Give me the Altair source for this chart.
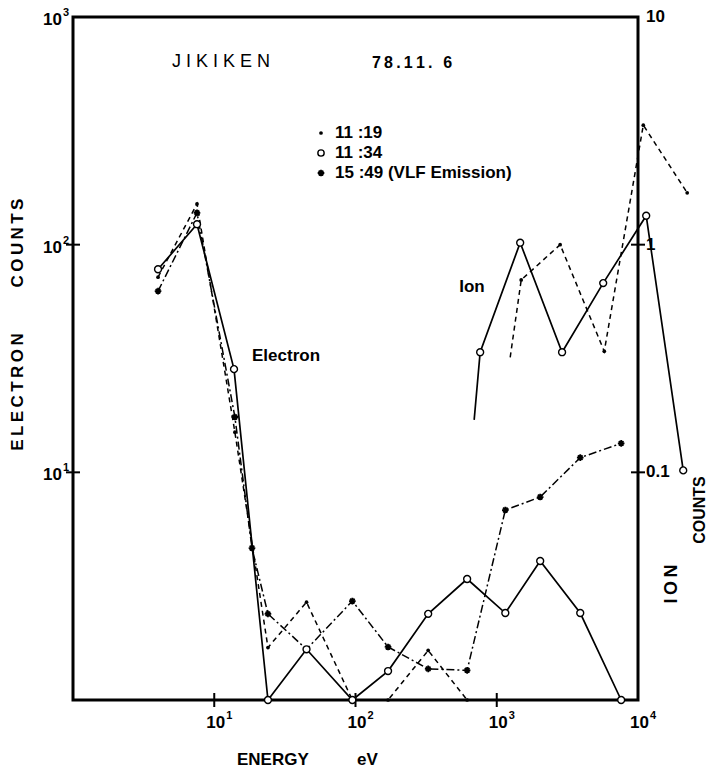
import altair as alt
import pandas as pd

# ---- electron spectra (left axis, counts) ----
e1119_energy = [4.0, 7.55, 14.0, 24.0, 45.0, 95.0, 170.0, 327.0, 617.0]
e1119_counts = [72, 151, 15.0, 1.7, 2.69, 1.0, 1.0, 1.65, 1.0]

e1134_energy = [4.0, 7.55, 13.8, 24.0, 45.0, 95.0, 170.0, 327.0, 617.0, 1150.0, 2030.0, 3900.0, 7600.0]
e1134_counts = [78, 123, 28.4, 1.0, 1.67, 1.0, 1.34, 2.39, 3.40, 2.41, 4.08, 2.41, 1.0]

e1549_energy = [4.0, 7.55, 14.0, 18.5, 24.0, 45.0, 95.0, 170.0, 327.0, 617.0, 1150.0, 2030.0, 3900.0, 7600.0]
e1549_counts = [62.5, 138, 17.5, 4.65, 2.39, 1.67, 2.72, 1.71, 1.37, 1.35, 6.83, 7.79, 11.6, 13.4]

# ---- ion spectra (right axis, counts); first entry of each has no symbol ----
i1134_energy = [692, 763, 1465, 2900, 5670, 11430, 20900]
i1134_counts = [0.17, 0.337, 1.02, 0.337, 0.678, 1.34, 0.102]

i1119_energy = [1245, 1490, 2810, 5770, 10900, 22300]
i1119_counts = [0.32, 0.70, 1.0, 0.34, 3.35, 1.69]

# ---- axis ticks ----
x_tick_values = [10, 100, 1000, 10000]
x_cross_ticks = [10, 100, 1000]
e_tick_values = [10, 100, 1000]
e_cross_ticks = [10, 100]
i_tick_values = [0.1, 1, 10]
i_cross_ticks = [0.1, 1]

W, H = 565, 683
FONT = "Liberation Sans"
TS = "\u2009"  # thin space used for loose tracking
ASTERISK = "M-1,0L1,0M0,-1L0,1M-0.7,-0.7L0.7,0.7M-0.7,0.7L0.7,-0.7"

x_scale = alt.Scale(type="log", domain=[1, 10000], nice=False)
ye_scale = alt.Scale(type="log", domain=[1, 1000], nice=False)
yi_scale = alt.Scale(type="log", domain=[0.01, 10], nice=False)

exp_expr = "'' + round(log(datum.v) / LN10)"
ion_expr = "datum.v < 0.5 ? '0.1' : datum.v < 5 ? '1' : '10'"


def tracked(s):
    return TS.join(s)


def line_layer(energy, counts, yscale, dash=None, width=1.5):
    df = pd.DataFrame({"energy": energy, "count": counts})
    kw = dict(color="black", strokeWidth=width, clip=False)
    if dash:
        kw["strokeDash"] = dash
    return alt.Chart(df).mark_line(**kw).encode(
        x=alt.X("energy:Q", scale=x_scale, axis=None),
        y=alt.Y("count:Q", scale=yscale, axis=None),
    )


def symbol_mark(chart, style, legend=False):
    if style == "dot":
        return chart.mark_point(shape="circle", filled=True, color="black",
                                size=14, opacity=1, clip=False)
    if style == "ring":
        return chart.mark_point(shape="circle", filled=True, fill="white",
                                stroke="black", strokeWidth=1.4,
                                size=40 if legend else 48, opacity=1, clip=False)
    return chart.mark_point(shape=ASTERISK, filled=False, stroke="black",
                            strokeWidth=1.8, size=44, opacity=1, clip=False)


def symbol_layer(energy, counts, yscale, style):
    df = pd.DataFrame({"energy": energy, "count": counts})
    return symbol_mark(alt.Chart(df), style).encode(
        x=alt.X("energy:Q", scale=x_scale, axis=None),
        y=alt.Y("count:Q", scale=yscale, axis=None),
    )


def label(text, x, y, size=17, weight="bold", angle=0, align="left"):
    return alt.Chart(alt.Data(values=[{}])).mark_text(
        text=text, font=FONT, fontSize=size, fontWeight=weight, angle=angle,
        align=align, baseline="middle", color="black",
    ).encode(x=alt.value(x), y=alt.value(y))


def legend_symbol(style, x, y):
    return symbol_mark(alt.Chart(alt.Data(values=[{}])), style, legend=True).encode(
        x=alt.value(x), y=alt.value(y))


def text_style(align, size=17):
    return dict(font=FONT, fontSize=size, fontWeight="bold", color="black",
                align=align, baseline="middle")


# tick marks crossing the frame
x_ticks = alt.Chart(pd.DataFrame({"v": x_cross_ticks})).mark_rule(
    color="black", strokeWidth=2).encode(
    x=alt.X("v:Q", scale=x_scale, axis=None), y=alt.value(H - 7), y2=alt.value(H + 7))
e_ticks = alt.Chart(pd.DataFrame({"v": e_cross_ticks})).mark_rule(
    color="black", strokeWidth=2).encode(
    y=alt.Y("v:Q", scale=ye_scale, axis=None), x=alt.value(-7), x2=alt.value(7))
i_ticks = alt.Chart(pd.DataFrame({"v": i_cross_ticks})).mark_rule(
    color="black", strokeWidth=2).encode(
    y=alt.Y("v:Q", scale=yi_scale, axis=None), x=alt.value(W - 7), x2=alt.value(W + 7))

# tick labels: base "10" plus a raised exponent
x_base = alt.Chart(pd.DataFrame({"v": x_tick_values})).mark_text(
    text="10", dx=11, **text_style("right")).encode(
    x=alt.X("v:Q", scale=x_scale, axis=None), y=alt.value(H + 23))
x_exp = alt.Chart(pd.DataFrame({"v": x_tick_values})).transform_calculate(
    t=exp_expr).mark_text(dx=12, **text_style("left", 11)).encode(
    x=alt.X("v:Q", scale=x_scale, axis=None), y=alt.value(H + 16), text="t:N")
e_base = alt.Chart(pd.DataFrame({"v": e_tick_values})).mark_text(
    text="10", dx=-11, dy=3, **text_style("right")).encode(
    y=alt.Y("v:Q", scale=ye_scale, axis=None), x=alt.value(0))
e_exp = alt.Chart(pd.DataFrame({"v": e_tick_values})).transform_calculate(
    t=exp_expr).mark_text(dx=-4, dy=-4, **text_style("right", 11)).encode(
    y=alt.Y("v:Q", scale=ye_scale, axis=None), x=alt.value(0), text="t:N")
i_labels = alt.Chart(pd.DataFrame({"v": i_tick_values})).transform_calculate(
    t=ion_expr).mark_text(dx=8, **text_style("left")).encode(
    y=alt.Y("v:Q", scale=yi_scale, axis=None), x=alt.value(W), text="t:N")

electron = alt.layer(
    x_ticks, e_ticks, x_base, x_exp, e_base, e_exp,
    line_layer(e1119_energy, e1119_counts, ye_scale, dash=[5, 4], width=1.5),
    line_layer(e1134_energy, e1134_counts, ye_scale, width=1.7),
    line_layer(e1549_energy, e1549_counts, ye_scale, dash=[8, 3, 2, 3], width=1.5),
    symbol_layer(e1119_energy, e1119_counts, ye_scale, "dot"),
    symbol_layer(e1549_energy, e1549_counts, ye_scale, "star"),
    symbol_layer(e1134_energy, e1134_counts, ye_scale, "ring"),
    label("J I K I K E N", 148, 45, size=18, weight="normal", align="center"),
    label(tracked("78.11. 6"), 299, 46, size=16),
    legend_symbol("dot", 248, 116),
    legend_symbol("ring", 248, 136),
    legend_symbol("star", 248, 156),
    label("11 :19", 262, 116),
    label("11 :34", 262, 136),
    label("15 :49  (VLF  Emission)", 262, 156),
    label("Electron", 179, 339),
    label("Ion", 399, 270, align="center"),
    label(tracked("ELECTRON"), -55, 375, angle=270, align="center"),
    label(tracked("COUNTS"), -55, 226, angle=270, align="center"),
    label("ENERGY", 164, 743),
    label("eV", 284, 743),
    label("COUNTS", 627, 493, size=16, angle=270, align="center"),
    label(tracked("ION"), 599, 567, size=18, angle=270, align="center"),
)

ion = alt.layer(
    i_ticks, i_labels,
    line_layer(i1134_energy, i1134_counts, yi_scale, width=1.7),
    line_layer(i1119_energy, i1119_counts, yi_scale, dash=[5, 4], width=1.5),
    symbol_layer(i1119_energy[1:], i1119_counts[1:], yi_scale, "dot"),
    symbol_layer(i1134_energy[1:], i1134_counts[1:], yi_scale, "ring"),
)

chart = alt.layer(electron, ion).resolve_scale(y="independent").properties(
    width=W, height=H,
    autosize=alt.AutoSizeParams(type="none"),
    padding={"left": 73, "top": 17, "right": 71, "bottom": 72},
    background="white",
).configure_view(stroke="black", strokeWidth=3)

chart.save("out.html", embed_options={"renderer": "svg", "actions": False})
